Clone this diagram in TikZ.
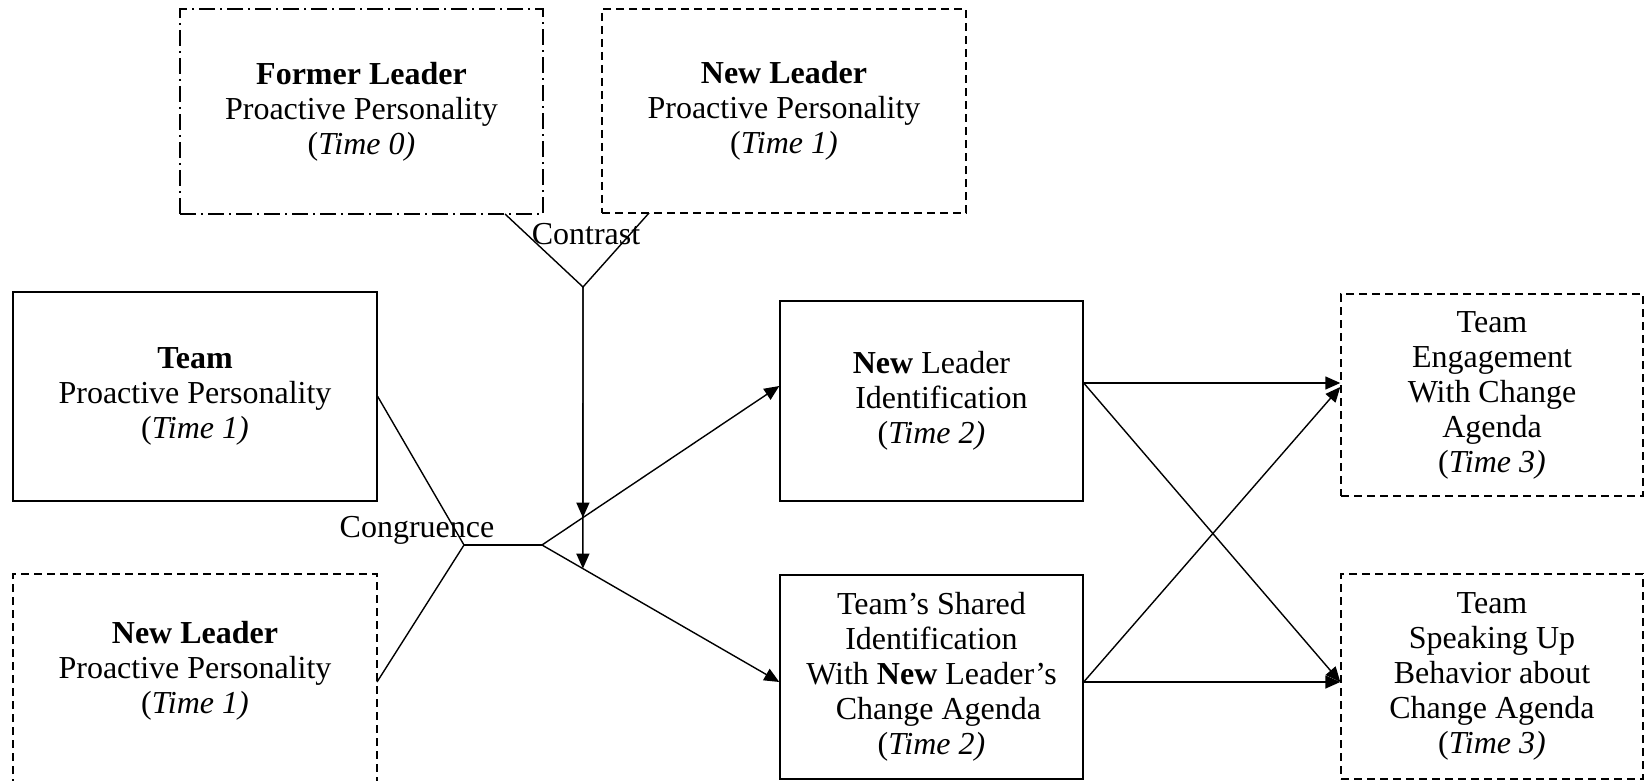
\documentclass[tikz,border=0pt]{standalone}
\usepackage{fontspec}
\setmainfont{Liberation Serif}
\usetikzlibrary{arrows.meta,calc}
\begin{document}
\begin{tikzpicture}[x=1pt,y=-1pt,
  txt/.style={font=\fontsize{32}{35}\selectfont, align=center, inner sep=0pt},
  box/.style={txt, draw, line width=1.4pt},
  dashline/.style={line width=1.4pt, dash pattern=on 8pt off 5pt},
  dashbox/.style={box, dash pattern=on 8pt off 5pt},
  dashdotbox/.style={box, dash pattern=on 16pt off 5pt on 2pt off 5pt},
  link/.style={line width=1.4pt},
  arr/.style={line width=1.4pt, -{Triangle[length=15pt,width=13pt]}}]
\clip (0,0) rectangle (1644,781);
\fill[white] (0,0) rectangle (1644,781);

% top boxes
\node[dashdotbox, minimum width=363pt, minimum height=205pt] (former) at (361.5,111.5)
  {\textbf{Former Leader}\\Proactive Personality\\(\textit{Time 0)}};
\node[dashbox, minimum width=364pt, minimum height=204pt] (newtop) at (784,111)
  {\textbf{New Leader}\\Proactive Personality\\(\textit{Time 1)}};

% left boxes
\node[box, minimum width=364pt, minimum height=209pt] (team) at (195,396.5)
  {\textbf{Team}\\Proactive Personality\\(\textit{Time 1)}};
\node[txt] (newleft) at (195,671)
  {\textbf{New Leader}\\Proactive Personality\\(\textit{Time 1)}};
\draw[dashline] (13,800) |- (377,574) -- (377,800);
\coordinate (newleftE) at (377,682);

% middle boxes
\node[box, minimum width=303pt, minimum height=200pt] (newid) at (931.5,401)
  {\textbf{New} Leader\\\hspace*{20pt}Identification\\(\textit{Time 2)}};
\node[box, minimum width=303pt, minimum height=204pt] (shared) at (931.5,677)
  {Team’s Shared\\Identification\\With \textbf{New} Leader’s\\\hspace*{14pt}Change Agenda\\(\textit{Time 2)}};

% right boxes
\node[dashbox, minimum width=302pt, minimum height=202pt] (engage) at (1492,395)
  {Team\\Engagement\\With Change\\Agenda\\(\textit{Time 3)}};
\node[dashbox, minimum width=302pt, minimum height=205pt] (speak) at (1492,676.5)
  {Team\\Speaking Up\\Behavior about\\Change Agenda\\(\textit{Time 3)}};

% contrast
\coordinate (formerB) at (505,214);
\coordinate (newtopB) at (649,213);
\coordinate (apex) at (583,287);
\draw[link] (formerB) -- (apex) -- (newtopB);
\node[txt] (contrast) at (586,234) {Contrast};

% congruence
\coordinate (join) at (464,545);
\coordinate (fork) at (542,545);
\draw[link] (team.east) -- (join) -- (newleftE);
\draw[link] (join) -- (fork);
\node[txt] (congruence) at (417,530) {Congruence};

\draw[arr] (fork) -- ([yshift=15pt]newid.west);
\draw[arr] (fork) -- ([yshift=-5pt]shared.west);

\coordinate (hitU) at ($(fork)!0.1723!([yshift=15pt]newid.west)$);
\coordinate (hitL) at ($(fork)!0.1723!([yshift=-5pt]shared.west)$);
\draw[arr] (apex) -- (hitU);
\draw[arr] (apex) -- (hitL);

% outcomes
\draw[arr] ([yshift=18pt]newid.east) -- ([yshift=12pt]engage.west);
\draw[arr] ([yshift=18pt]newid.east) -- ([yshift=-5.5pt]speak.west);
\draw[arr] ([yshift=-5pt]shared.east) -- ([yshift=8pt]engage.west);
\draw[arr] ([yshift=-5pt]shared.east) -- ([yshift=-5.5pt]speak.west);
\end{tikzpicture}
\end{document}
